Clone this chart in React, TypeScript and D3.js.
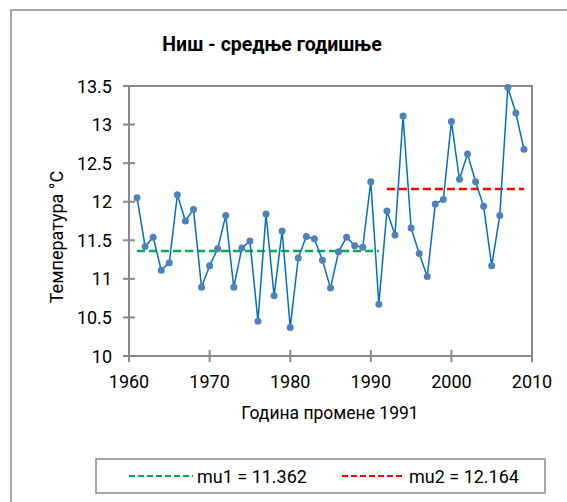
import React from 'react';
import * as d3 from 'd3';

// годишње средње температуре, Ниш
const years = d3.range(1961, 2010);
const temps = [
  12.05, 11.42, 11.54, 11.11, 11.21, 12.09, 11.75, 11.9, 10.89, 11.17,
  11.39, 11.82, 10.89, 11.4, 11.49, 10.45, 11.84, 10.78, 11.62, 10.37,
  11.27, 11.55, 11.52, 11.24, 10.88, 11.35, 11.54, 11.43, 11.41, 12.26,
  10.67, 11.88, 11.57, 13.11, 11.66, 11.33, 11.03, 11.97, 12.03, 13.04,
  12.29, 12.62, 12.26, 11.94, 11.17, 11.82, 13.48, 13.15, 12.68,
];
const xTicks = [1960, 1970, 1980, 1990, 2000, 2010];
const yTicks = [10, 10.5, 11, 11.5, 12, 12.5, 13, 13.5];
const mu1 = 11.362;
const mu2 = 12.164;
const mu1Span = [1961, 1991];
const mu2Span = [1992, 2009];

const FONT = 'Roboto, "Noto Sans", sans-serif';

export default function App() {
  const W = 567, H = 502;
  const left = 129, right = 532, top = 86, bottom = 356;
  const x = d3.scaleLinear().domain([1960, 2010]).range([left, right]);
  const y = d3.scaleLinear().domain([10, 13.5]).range([bottom, top]);
  const data = years.map((yr, i) => ({ yr, t: temps[i] }));
  const line = d3.line<{ yr: number; t: number }>().x(d => x(d.yr)).y(d => y(d.t));
  const axisCol = '#898989';

  return (
    <svg width={W} height={H} style={{ position: 'absolute', left: 0, top: 0, background: '#fff' }}>
      <rect x={11} y={10} width={700} height={700} fill="#fff" stroke="#8c8c8c" strokeWidth={1.5} />
      <text x={272} y={51} textAnchor="middle" fontFamily={FONT} fontWeight="bold" fontSize={19.5}>
        Ниш - средње годишње
      </text>

      {/* plot frame */}
      <rect x={left} y={top} width={right - left} height={bottom - top} fill="none" stroke={axisCol} strokeWidth={2} />
      {yTicks.map(v => (
        <g key={'y' + v}>
          <line x1={left - 6} x2={left + 6} y1={y(v)} y2={y(v)} stroke={axisCol} strokeWidth={2} />
          <text x={112} y={y(v) + 6.5} textAnchor="end" fontFamily={FONT} fontSize={18} fill="#000">{v}</text>
        </g>
      ))}
      {xTicks.map(v => (
        <g key={'x' + v}>
          <line x1={x(v)} x2={x(v)} y1={bottom - 6} y2={bottom + 6} stroke={axisCol} strokeWidth={2} />
          <text x={x(v)} y={388} textAnchor="middle" fontFamily={FONT} fontSize={18} fill="#000">{v}</text>
        </g>
      ))}
      <text x={330} y={419} textAnchor="middle" fontFamily={FONT} fontSize={17.5}>Година промене 1991</text>
      <text transform="translate(63,237) rotate(-90)" textAnchor="middle" fontFamily={FONT} fontSize={18}>Температура °C</text>

      {/* mean lines */}
      <line x1={x(mu1Span[0])} x2={x(mu1Span[1])} y1={y(mu1)} y2={y(mu1)} stroke="#00B050" strokeWidth={2.5} strokeDasharray="8,4" />
      <line x1={x(mu2Span[0])} x2={x(mu2Span[1])} y1={y(mu2)} y2={y(mu2)} stroke="#FF0000" strokeWidth={2.5} strokeDasharray="8,4" />

      <path d={line(data) || ''} fill="none" stroke="#0070C0" strokeWidth={1.5} />
      {data.map(d => (
        <circle key={d.yr} cx={x(d.yr)} cy={y(d.t)} r={3.5} fill="#4F81BD" />
      ))}

      {/* legend */}
      <rect x={96} y={459} width={449} height={34} fill="#fff" stroke="#8c8c8c" strokeWidth={1.5} />
      <line x1={129} x2={193} y1={476} y2={476} stroke="#00B050" strokeWidth={2} strokeDasharray="6,3" />
      <text x={197} y={482.5} fontFamily={FONT} fontSize={18}>mu1 = {mu1.toFixed(3)}</text>
      <line x1={342} x2={405} y1={476} y2={476} stroke="#FF0000" strokeWidth={2} strokeDasharray="6,3" />
      <text x={409} y={482.5} fontFamily={FONT} fontSize={18}>mu2 = {mu2.toFixed(3)}</text>
    </svg>
  );
}
